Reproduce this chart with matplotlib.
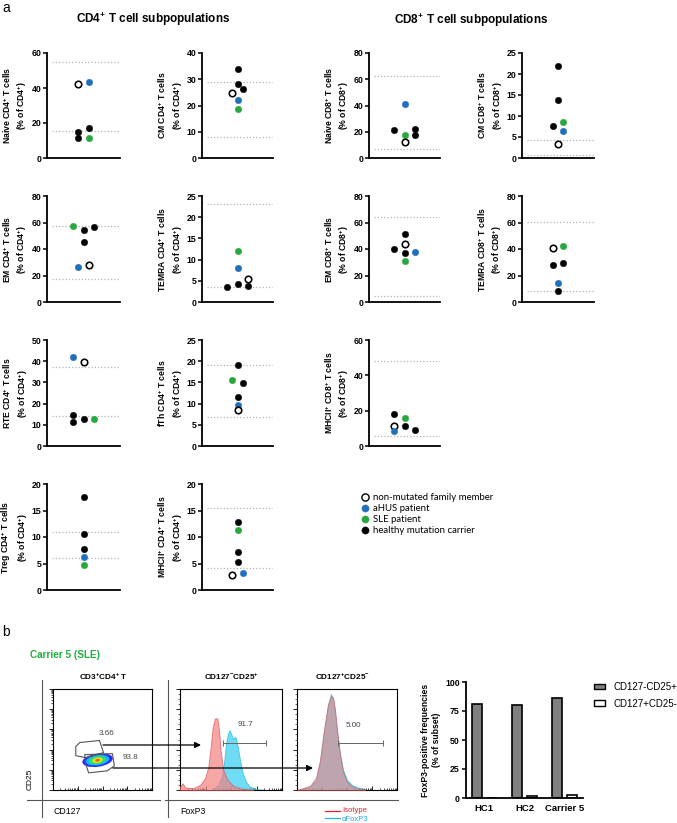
import matplotlib
matplotlib.use('Agg')
import matplotlib.pyplot as plt
from matplotlib.lines import Line2D
from matplotlib.patches import Polygon, Ellipse, Patch
import numpy as np

plt.rcParams['font.family'] = ['Liberation Sans', 'DejaVu Sans']
plt.rcParams['mathtext.fontset'] = 'custom'
plt.rcParams['mathtext.rm'] = 'Liberation Sans'
plt.rcParams['mathtext.bf'] = 'Liberation Sans:bold'
plt.rcParams['mathtext.it'] = 'Liberation Sans:italic'

# ---------------- DATA (panel a) ----------------
# groups: N = non-mutated family member, A = aHUS patient, S = SLE patient, C = healthy mutation carrier
naive_cd4_vals = [42.1, 43.6, 14.6, 16.9, 11.4, 11.4]
naive_cd4_grp = ['N', 'A', 'C', 'C', 'C', 'S']
naive_cd4_col = [-1, 1, -1, 1, -1, 1]
naive_cd4_ref = [54.6, 15.4]

cm_cd4_vals = [33.8, 28.2, 26.1, 24.6, 22.0, 18.6]
cm_cd4_grp = ['C', 'C', 'C', 'N', 'A', 'S']
cm_cd4_col = [0, 0, 1, -1, 0, 0]
cm_cd4_ref = [28.9, 8.0]

naive_cd8_vals = [21.3, 41.5, 17.5, 11.9, 22.0, 17.5]
naive_cd8_grp = ['C', 'A', 'S', 'N', 'C', 'C']
naive_cd8_col = [-2, 0, 0, 0, 2, 2]
naive_cd8_ref = [62.3, 6.6]

cm_cd8_vals = [22.0, 13.7, 7.6, 8.5, 6.5, 3.4]
cm_cd8_grp = ['C', 'C', 'C', 'S', 'A', 'N']
cm_cd8_col = [0, 0, -1, 1, 1, 0]
cm_cd8_ref = [4.4, 0.6]

em_cd4_vals = [57.4, 54.6, 56.9, 45.1, 26.1, 27.6]
em_cd4_grp = ['S', 'C', 'C', 'C', 'A', 'N']
em_cd4_col = [-2, 0, 2, 0, -1, 1]
em_cd4_ref = [57.1, 17.0]

temra_cd4_vals = [12.1, 8.1, 5.5, 4.15, 3.45, 3.7]
temra_cd4_grp = ['S', 'A', 'N', 'C', 'C', 'C']
temra_cd4_col = [0, 0, 2, 0, -2, 2]
temra_cd4_ref = [23.0, 3.6]

em_cd8_vals = [51.6, 43.9, 40.1, 36.9, 37.9, 31.3]
em_cd8_grp = ['C', 'N', 'C', 'C', 'A', 'S']
em_cd8_col = [0, 0, -2, 0, 2, 0]
em_cd8_ref = [64.2, 4.3]

temra_cd8_vals = [40.4, 42.1, 27.8, 29.8, 14.0, 8.5]
temra_cd8_grp = ['N', 'S', 'C', 'C', 'A', 'C']
temra_cd8_col = [-1, 1, -1, 1, 0, 0]
temra_cd8_ref = [60.2, 8.0]

rte_cd4_vals = [42.0, 39.6, 14.5, 11.2, 12.6, 12.6]
rte_cd4_grp = ['A', 'N', 'C', 'C', 'C', 'S']
rte_cd4_col = [-2, 0, -2, -2, 0, 2]
rte_cd4_ref = [37.4, 14.2]

fth_cd4_vals = [19.1, 15.6, 14.9, 11.6, 9.7, 8.5]
fth_cd4_grp = ['C', 'S', 'C', 'C', 'A', 'N']
fth_cd4_col = [0, -1, 1, 0, 0, 0]
fth_cd4_ref = [19.1, 6.9]

mhc_cd8_vals = [18.3, 16.1, 11.4, 8.3, 11.2, 9.1]
mhc_cd8_grp = ['C', 'S', 'N', 'A', 'C', 'C']
mhc_cd8_col = [-2, 0, -2, -2, 0, 2]
mhc_cd8_ref = [47.9, 5.9]

treg_cd4_vals = [17.5, 10.5, 7.7, 6.2, 4.8]
treg_cd4_grp = ['C', 'C', 'C', 'A', 'S']
treg_cd4_col = [0, 0, 0, 0, 0]
treg_cd4_ref = [11.0, 6.0]

mhc_cd4_vals = [12.9, 11.3, 7.2, 5.35, 2.8, 3.3]
mhc_cd4_grp = ['C', 'S', 'C', 'C', 'N', 'A']
mhc_cd4_col = [0, 0, 0, 0, -1, 1]
mhc_cd4_ref = [15.5, 4.1]

legend_labels = ['non-mutated family member', 'aHUS patient', 'SLE patient', 'healthy mutation carrier']
legend_groups = ['N', 'A', 'S', 'C']

# ---------------- DATA (panel b) ----------------
bar_categories = ['HC1', 'HC2', 'Carrier 5']
foxp3_cd127neg_cd25pos = [80.7, 80.2, 86.2]
foxp3_cd127pos_cd25neg = [0.0, 2.0, 2.3]
bar_series = ['CD127-CD25+', 'CD127+CD25-']

gate_treg_pct = '3.66'
gate_conv_pct = '93.8'
hist_treg_pct = '91.7'
hist_conv_pct = '5.00'

# histogram outlines (fraction of plot width, fraction of plot height)
h2_iso_x = [0, .026, .049, .131, .196, .245, .278, .301, .321, .343, .366, .382, .399, .425, .464, .523, .605, .719]
h2_iso_y = [0.033, 0.066, 0.026, 0.017, 0.05, 0.116, 0.231, 0.429, 0.627, 0.71, 0.71, 0.594, 0.38, 0.198, 0.099, 0.04, 0.013, 0.003]
h2_fox_x = [.327, .376, .409, .431, .451, .471, .487, .503, .520, .536, .549, .566, .588, .615, .647, .686, .752, .817]
h2_fox_y = [0.013, 0.05, 0.132, 0.264, 0.462, 0.561, 0.594, 0.554, 0.502, 0.528, 0.512, 0.429, 0.297, 0.165, 0.083, 0.033, 0.01, 0.003]
h3_x = [0, .06, .13, .19, .23, .27, .31, .34, .36, .38, .40, .43, .46, .50, .55, .61, .68]
h3_iso_y = [0, .02, .04, .12, .30, .60, .85, .93, .92, .80, .60, .35, .18, .08, .035, .015, .005]
h3_fox_y = [0, .015, .035, .10, .28, .58, .84, .95, .90, .78, .58, .36, .20, .10, .05, .025, .01]

# ---------------- STYLE ----------------
W, H = 677, 823
fig = plt.figure(figsize=(W / 100, H / 100), dpi=100)

BLUE = '#1f6fbd'
GREEN = '#27a83c'
STYLE = {'N': ('white', 'black'), 'A': (BLUE, BLUE), 'S': (GREEN, GREEN), 'C': ('black', 'black')}
NARROW = ['Liberation Sans Narrow', 'Liberation Sans', 'DejaVu Sans']


def px_axes(x0, y0, x1, y1, **kw):
    return fig.add_axes([x0 / W, 1 - y1 / H, (x1 - x0) / W, (y1 - y0) / H], **kw)


def sup(s):
    return '$^{\\mathbf{' + s + '}}$'


P = sup('+')


def scatter_panel(box, label, ymax, ystep, vals, grps, cols, refs):
    ax = px_axes(*box)
    ax.set_xlim(-7, 7)
    ax.set_ylim(0, ymax)
    for r in refs:
        ax.axhline(r, xmin=0.07, xmax=1.0, color='#b4b4b4', lw=0.9, ls=(0, (1, 1.6)), zorder=1)
    for v, g, c in zip(vals, grps, cols):
        fc, ec = STYLE[g]
        ax.scatter([c], [v], s=22, facecolor=fc, edgecolor=ec, linewidth=1.15 if g == 'N' else 0.3,
                   zorder=3, clip_on=False)
    for sp in ['top', 'right']:
        ax.spines[sp].set_visible(False)
    for sp in ['left', 'bottom']:
        ax.spines[sp].set_linewidth(1.3)
    ax.set_xticks([])
    ax.set_yticks(np.arange(0, ymax + 0.01, ystep))
    ax.tick_params(axis='y', length=3, width=1.1, pad=1.0)
    for t in ax.get_yticklabels():
        t.set_fontweight('bold')
        t.set_fontfamily(NARROW)
        t.set_fontsize(6.3)
    ax.set_ylabel(label, fontsize=6.2, fontweight='bold', labelpad=1.5, linespacing=1.3)
    return ax


C1, C2, C3, C4 = (47, 120), (202, 273), (369, 440), (522, 594)
R1, R2, R3, R4 = (53, 158), (196, 302), (340, 446), (484, 590)


def box(c, r):
    return (c[0], r[0], c[1], r[1])


scatter_panel(box(C1, R1), 'Naive CD4' + P + ' T cells\n(% of CD4' + P + ')', 60, 20,
              naive_cd4_vals, naive_cd4_grp, naive_cd4_col, naive_cd4_ref)
scatter_panel(box(C2, R1), 'CM CD4' + P + ' T cells\n(% of CD4' + P + ')', 40, 10,
              cm_cd4_vals, cm_cd4_grp, cm_cd4_col, cm_cd4_ref)
scatter_panel(box(C3, R1), 'Naive CD8' + P + ' T cells\n(% of CD8' + P + ')', 80, 20,
              naive_cd8_vals, naive_cd8_grp, naive_cd8_col, naive_cd8_ref)
scatter_panel(box(C4, R1), 'CM CD8' + P + ' T cells\n(% of CD8' + P + ')', 25, 5,
              cm_cd8_vals, cm_cd8_grp, cm_cd8_col, cm_cd8_ref)
scatter_panel(box(C1, R2), 'EM CD4' + P + ' T cells\n(% of CD4' + P + ')', 80, 20,
              em_cd4_vals, em_cd4_grp, em_cd4_col, em_cd4_ref)
scatter_panel(box(C2, R2), 'TEMRA CD4' + P + ' T cells\n(% of CD4' + P + ')', 25, 5,
              temra_cd4_vals, temra_cd4_grp, temra_cd4_col, temra_cd4_ref)
scatter_panel(box(C3, R2), 'EM CD8' + P + ' T cells\n(% of CD8' + P + ')', 80, 20,
              em_cd8_vals, em_cd8_grp, em_cd8_col, em_cd8_ref)
scatter_panel(box(C4, R2), 'TEMRA CD8' + P + ' T cells\n(% of CD8' + P + ')', 80, 20,
              temra_cd8_vals, temra_cd8_grp, temra_cd8_col, temra_cd8_ref)
scatter_panel(box(C1, R3), 'RTE CD4' + P + ' T cells\n(% of CD4' + P + ')', 50, 10,
              rte_cd4_vals, rte_cd4_grp, rte_cd4_col, rte_cd4_ref)
scatter_panel(box(C2, R3), 'fTh CD4' + P + ' T cells\n(% of CD4' + P + ')', 25, 5,
              fth_cd4_vals, fth_cd4_grp, fth_cd4_col, fth_cd4_ref)
scatter_panel(box(C3, R3), 'MHCII' + P + ' CD8' + P + ' T cells\n(% of CD8' + P + ')', 60, 20,
              mhc_cd8_vals, mhc_cd8_grp, mhc_cd8_col, mhc_cd8_ref)
scatter_panel(box(C1, R4), 'Treg CD4' + P + ' T cells\n(% of CD4' + P + ')', 20, 5,
              treg_cd4_vals, treg_cd4_grp, treg_cd4_col, treg_cd4_ref)
scatter_panel(box(C2, R4), 'MHCII' + P + ' CD4' + P + ' T cells\n(% of CD4' + P + ')', 20, 5,
              mhc_cd4_vals, mhc_cd4_grp, mhc_cd4_col, mhc_cd4_ref)

# legend of panel a
handles = [Line2D([], [], ls='none', marker='o', ms=5.2, markerfacecolor=STYLE[g][0],
                  markeredgecolor=STYLE[g][1], markeredgewidth=1.0 if g == 'N' else 0.3)
           for g in legend_groups]
fig.legend(handles, legend_labels, loc='upper left', bbox_to_anchor=(362 / W, 1 - 493 / H),
           frameon=False, handlelength=0.7, handletextpad=0.45, labelspacing=0.22,
           borderpad=0, borderaxespad=0, prop={'family': 'Lato', 'size': 6.9})

# ---------------- panel b : flow cytometry ----------------
def log_minor(ndec):
    major = [d / ndec for d in range(ndec + 1)]
    minor = [(d + np.log10(k)) / ndec for d in range(ndec) for k in range(2, 10)]
    return major, minor


def flow_axes(b):
    ax = px_axes(*b)
    ax.set_xlim(0, 1)
    ax.set_ylim(0, 1)
    for sp in ax.spines.values():
        sp.set_linewidth(0.8)
    mj, mn = log_minor(4)
    ax.set_xticks(mj)
    ax.set_xticks(mn, minor=True)
    ax.tick_params(axis='x', which='major', direction='in', length=3, width=0.6, labelbottom=False)
    ax.tick_params(axis='x', which='minor', direction='in', length=1.5, width=0.5)
    return ax


# dot plot
axd = flow_axes((53, 689, 152, 790))
ymj, ymn = log_minor(5)
axd.set_yticks(ymj)
axd.set_yticks(ymn, minor=True)
axd.tick_params(axis='y', which='major', direction='out', length=3, width=0.6, labelleft=False)
axd.tick_params(axis='y', which='minor', direction='out', length=1.5, width=0.5)

blob_colors = ['#2a2aff', '#12b8ff', '#3be05a', '#f2e61a', '#ff5a10']
blob_w = [0.31, 0.24, 0.17, 0.10, 0.05]
blob_h = [0.13, 0.10, 0.075, 0.05, 0.028]
for col, bw, bh in zip(blob_colors, blob_w, blob_h):
    axd.add_patch(Ellipse((0.45, 0.295), bw, bh, angle=8, facecolor=col, edgecolor='none', zorder=2))

gate_upper = [(0.23, 0.43), (0.27, 0.47), (0.47, 0.49), (0.51, 0.37), (0.33, 0.32), (0.23, 0.34)]
gate_lower = [(0.32, 0.35), (0.60, 0.36), (0.62, 0.24), (0.55, 0.19), (0.36, 0.17), (0.33, 0.26)]
axd.add_patch(Polygon(gate_upper, closed=True, fill=False, edgecolor='#555555', lw=0.8, zorder=3))
axd.add_patch(Polygon(gate_lower, closed=True, fill=False, edgecolor='#555555', lw=0.8, zorder=3))
axd.text(0.545, 0.56, gate_treg_pct, fontsize=5.8, color='#444444', ha='center', va='center')
axd.text(0.78, 0.32, gate_conv_pct, fontsize=5.8, color='#444444', ha='center', va='center')


def hist_axes(b):
    ax = flow_axes(b)
    ax.set_yticks(np.linspace(0, 1, 6))
    ax.set_yticks(np.linspace(0, 1, 21), minor=True)
    ax.tick_params(axis='y', which='major', direction='out', length=3, width=0.6, labelleft=False)
    ax.tick_params(axis='y', which='minor', direction='out', length=1.3, width=0.4)
    return ax


RED_F, RED_E = '#f48080', '#e24848'
CY_F, CY_E = '#3fd0f2', '#1fb8e0'

axh2 = hist_axes((180, 689, 282, 790))
axh2.fill_between(h2_fox_x, h2_fox_y, 0, facecolor=CY_F, edgecolor=CY_E, lw=0.6, alpha=0.75, zorder=2)
axh2.fill_between(h2_iso_x, h2_iso_y, 0, facecolor=RED_F, edgecolor=RED_E, lw=0.6, alpha=0.7, zorder=3)
axh2.errorbar([0.63], [0.465], xerr=[[0.21], [0.21]], fmt='none', ecolor='#666666', elinewidth=0.7,
              capsize=2, capthick=0.7, zorder=4)
axh2.text(0.64, 0.65, hist_treg_pct, fontsize=5.8, color='#444444', ha='center', va='center')

axh3 = hist_axes((297, 689, 397, 790))
axh3.fill_between(h3_x, h3_fox_y, 0, facecolor=CY_F, edgecolor=CY_E, lw=0.6, alpha=0.75, zorder=2)
axh3.fill_between(h3_x, h3_iso_y, 0, facecolor=RED_F, edgecolor=RED_E, lw=0.6, alpha=0.6, zorder=3)
axh3.errorbar([0.635], [0.465], xerr=[[0.225], [0.225]], fmt='none', ecolor='#666666', elinewidth=0.7,
              capsize=2, capthick=0.7, zorder=4)
axh3.text(0.56, 0.64, hist_conv_pct, fontsize=5.8, color='#444444', ha='center', va='center')

# ---------------- panel b : bar chart ----------------
axb = px_axes(466, 682, 583, 798)
xb = np.arange(len(bar_categories))
axb.bar(xb - 0.19, foxp3_cd127neg_cd25pos, 0.24, color='#808080', edgecolor='black', lw=1.2, zorder=2)
axb.bar(xb + 0.19, foxp3_cd127pos_cd25neg, 0.24, color='white', edgecolor='black', lw=1.2, zorder=2)
axb.set_xlim(-0.46, 2.46)
axb.set_ylim(0, 100)
axb.set_yticks([0, 25, 50, 75, 100])
axb.set_xticks(xb)
axb.set_xticklabels(bar_categories, fontsize=6.8, fontweight='bold')
axb.tick_params(axis='x', length=0, pad=4)
axb.tick_params(axis='y', length=3, width=1.1, pad=1.5, labelsize=6.3)
for t in axb.get_yticklabels():
    t.set_fontweight('bold')
for sp in ['top', 'right']:
    axb.spines[sp].set_visible(False)
for sp in ['left', 'bottom']:
    axb.spines[sp].set_linewidth(1.3)
axb.set_ylabel('FoxP3-positive frequencies\n(% of subset)', fontsize=6.2, fontweight='bold',
               labelpad=3, linespacing=1.25)
bar_handles = [Patch(facecolor='#808080', edgecolor='black', lw=1.0),
               Patch(facecolor='white', edgecolor='black', lw=1.0)]
fig.legend(bar_handles, bar_series, loc='upper left', bbox_to_anchor=(594 / W, 1 - 682 / H),
           frameon=False, fontsize=7, handlelength=1.1, handleheight=0.55, handletextpad=0.9,
           labelspacing=0.7, borderpad=0, borderaxespad=0)

# ---------------- overlay: titles, frames, arrows ----------------
ov = fig.add_axes([0, 0, 1, 1], zorder=10)
ov.set_xlim(0, W)
ov.set_ylim(H, 0)
ov.axis('off')
ov.patch.set_alpha(0)

ov.text(2, 8, 'a', fontsize=10, ha='left', va='center')
ov.text(2, 632, 'b', fontsize=10, ha='left', va='center')
ov.text(153, 19, 'CD4' + P + ' T cell subpopulations', fontsize=8.5, fontweight='bold', ha='center', va='center')
ov.text(471, 20, 'CD8' + P + ' T cell subpopulations', fontsize=8.5, fontweight='bold', ha='center', va='center')
ov.text(30, 655, 'Carrier 5 (SLE)', fontsize=7.2, fontweight='bold', color='#1fae3e', ha='left', va='center')

ov.text(103, 677, 'CD3' + P + 'CD4' + P + ' T', fontsize=5.9, fontweight='bold', ha='center', va='center')
ov.text(231, 677, 'CD127' + sup('-') + 'CD25' + P, fontsize=5.9, fontweight='bold', ha='center', va='center')
ov.text(342, 677, 'CD127' + P + 'CD25' + sup('-'), fontsize=5.9, fontweight='bold', ha='center', va='center')

for (x0, y0, x1, y1) in [(42, 680, 42, 817), (27, 800, 160, 800), (168, 680, 168, 817), (165, 800, 398, 800)]:
    ov.plot([x0, x1], [y0, y1], color='#555555', lw=0.8)
ov.text(30, 779, 'CD25', fontsize=6, rotation=90, ha='center', va='center')
ov.text(53, 811, 'CD127', fontsize=6.3, ha='left', va='center')
ov.text(180, 811, 'FoxP3', fontsize=6.3, ha='left', va='center')

ov.plot([325, 340], [811, 811], color='#e8202a', lw=0.9)
ov.plot([325, 340], [818, 818], color='#20b8e8', lw=0.9)
ov.text(342, 810.5, 'Isotype', fontsize=5.5, color='#e8202a', ha='left', va='center')
ov.text(342, 819.5, 'αFoxP3', fontsize=5.5, color='#20a8e0', ha='left', va='center')

ov.annotate('', xy=(201, 745), xytext=(103, 745),
            arrowprops=dict(arrowstyle='-|>', color='black', lw=0.9, mutation_scale=9, shrinkA=0, shrinkB=0))
ov.annotate('', xy=(313, 768), xytext=(113, 768),
            arrowprops=dict(arrowstyle='-|>', color='black', lw=0.9, mutation_scale=9, shrinkA=0, shrinkB=0))

fig.savefig('out.png', dpi=100)
